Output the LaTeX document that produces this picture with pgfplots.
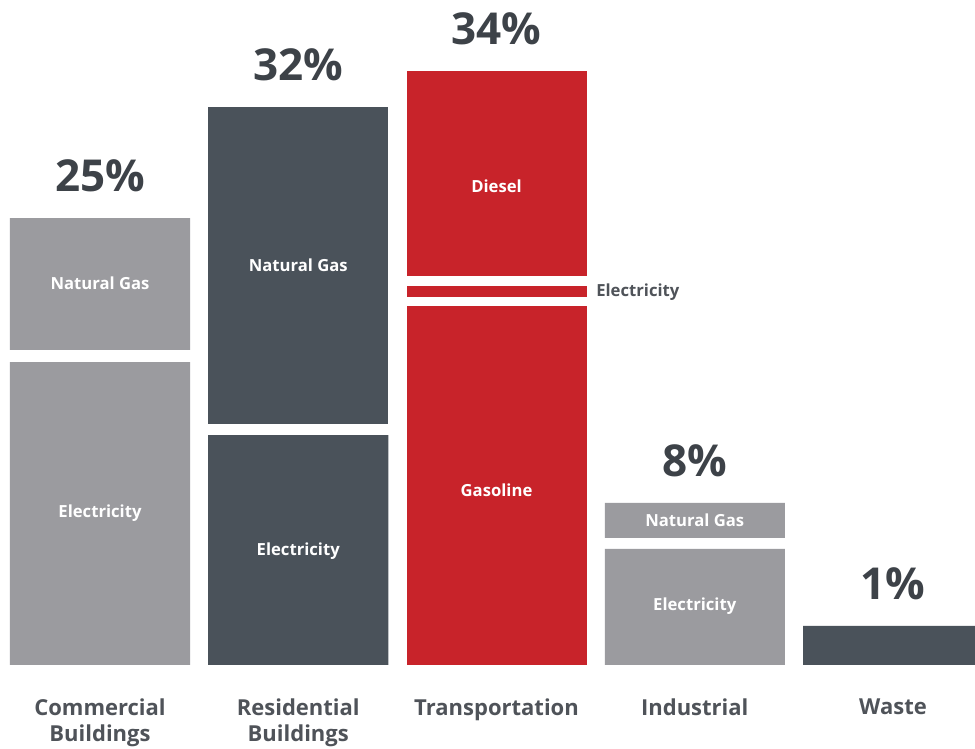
\documentclass[border=0pt]{standalone}
\usepackage{pgfplots}
\pgfplotsset{compat=1.18}
\usepackage{fontspec}
\setmainfont{Open Sans}

\definecolor{lightbar}{HTML}{9B9B9F}
\definecolor{darkbar}{HTML}{4A525A}
\definecolor{redbar}{HTML}{C8232A}
\definecolor{pcttext}{HTML}{3D4248}
\definecolor{cattext}{HTML}{4F5359}

\begin{document}
\begin{tikzpicture}[
  pct/.style={font=\fontsize{33}{38}\selectfont\bfseries, text=pcttext, inner sep=0pt, anchor=south, yshift=19.5pt},
  seg/.style={font=\fontsize{12.5}{15}\selectfont\bfseries, text=white, inner sep=0pt},
]
\begin{axis}[
    scale only axis,
    width=731.25pt, height=561.75pt,
    xmin=-0.5044, xmax=4.4136,
    ymin=-4.8, ymax=38,
    ybar stacked,
    bar width=0.908,
    axis line style={draw=none},
    tick style={draw=none},
    ytick=\empty,
    xtick={0,1,2,3,4},
    xticklabels={Commercial\\Buildings, Residential\\Buildings, Transportation, Industrial, Waste},
    xticklabel style={anchor=north, inner sep=0pt, yshift=37.5pt, align=center,
        text=cattext, font=\fontsize{16.5}{19.5}\selectfont\bfseries},
    every axis plot/.append style={draw=none},
    gap/.style={fill=none, draw=none},
]
% bottom segments
\addplot[fill=lightbar] coordinates {(0,17.31) (1,0) (2,0) (3,6.63) (4,0)};
\addplot[fill=darkbar]  coordinates {(0,0) (1,13.14) (2,0) (3,0) (4,2.23)};
\addplot[fill=redbar]   coordinates {(0,0) (1,0) (2,20.51) (3,0) (4,0)};
% gap
\addplot[gap] coordinates {(0,0.69) (1,0.63) (2,0.51) (3,0.63) (4,0)};
% second segments
\addplot[fill=lightbar] coordinates {(0,7.54) (1,0) (2,0) (3,2.00) (4,0)};
\addplot[fill=darkbar]  coordinates {(0,0) (1,18.11) (2,0) (3,0) (4,0)};
\addplot[fill=redbar]   coordinates {(0,0) (1,0) (2,0.63) (3,0) (4,0)};
% gap
\addplot[gap] coordinates {(0,0) (1,0) (2,0.57) (3,0) (4,0)};
% top segment
\addplot[fill=redbar]   coordinates {(0,0) (1,0) (2,11.71) (3,0) (4,0)};

% anchor points for the labels
\coordinate (t0) at (axis cs:0,25.54);
\coordinate (t1) at (axis cs:1,31.89);
\coordinate (t2) at (axis cs:2,33.94);
\coordinate (t3) at (axis cs:3,9.26);
\coordinate (t4) at (axis cs:4,2.23);
\coordinate (s0a) at (axis cs:0,21.83);
\coordinate (s0b) at (axis cs:0,8.69);
\coordinate (s1a) at (axis cs:1,22.86);
\coordinate (s1b) at (axis cs:1,6.51);
\coordinate (s2a) at (axis cs:2,27.37);
\coordinate (s2b) at (axis cs:2,10.0);
\coordinate (s2c) at (axis cs:2.502,21.31);
\coordinate (s3a) at (axis cs:3,8.29);
\coordinate (s3b) at (axis cs:3,3.37);
\end{axis}

\node[pct] at (t0) {25\%};
\node[pct] at (t1) {32\%};
\node[pct] at (t2) {34\%};
\node[pct] at (t3) {8\%};
\node[pct] at (t4) {1\%};

\node[seg] at (s0a) {Natural Gas};
\node[seg] at (s0b) {Electricity};
\node[seg] at (s1a) {Natural Gas};
\node[seg] at (s1b) {Electricity};
\node[seg] at (s2a) {Diesel};
\node[seg] at (s2b) {Gasoline};
\node[seg] at (s3a) {Natural Gas};
\node[seg] at (s3b) {Electricity};
\node[seg, text=cattext, anchor=west] at (s2c) {Electricity};

\pgfresetboundingbox
\path (current axis.south west) rectangle (current axis.north east);
\end{tikzpicture}
\end{document}
